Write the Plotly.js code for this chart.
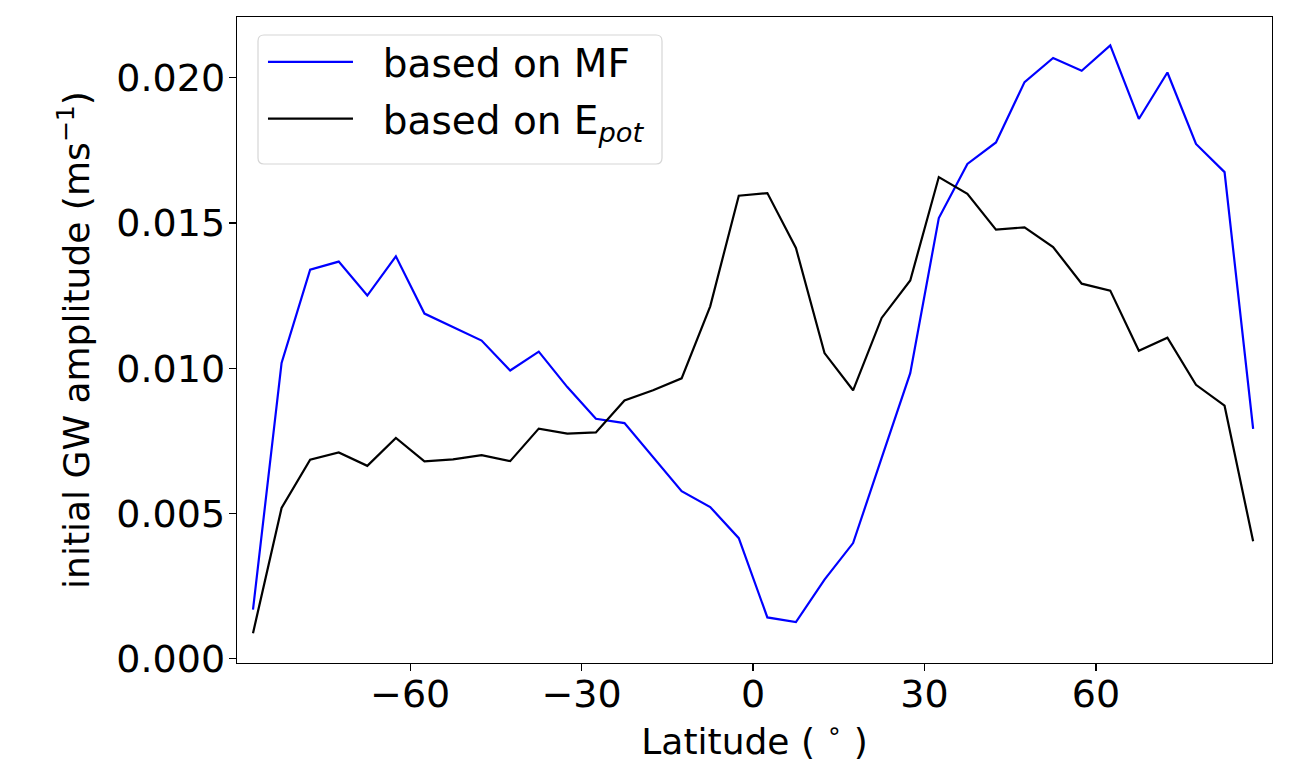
<!DOCTYPE html>
<html>
<head>
<meta charset="utf-8">
<script src="https://cdn.plot.ly/plotly-3.0.1.min.js"></script>
<style>html,body{margin:0;padding:0;background:#fff;}#chart{width:1315px;height:768px;}</style>
</head>
<body>
<div id="chart"></div>
<script>
// Latitude (degrees)
const latitude = [-87.5, -82.5, -77.5, -72.5, -67.5, -62.5, -57.5, -52.5, -47.5, -42.5,
  -37.5, -32.5, -27.5, -22.5, -17.5, -12.5, -7.5, -2.5, 2.5, 7.5,
  12.5, 17.5, 22.5, 27.5, 32.5, 37.5, 42.5, 47.5, 52.5, 57.5,
  62.5, 67.5, 72.5, 77.5, 82.5, 87.5];

// initial GW amplitude based on MF (m s^-1)
const ampMF = [0.00169, 0.01018, 0.01339, 0.01367, 0.01250, 0.01385, 0.01188, 0.01142, 0.01095, 0.00992,
  0.01057, 0.00935, 0.00826, 0.00811, 0.00694, 0.00577, 0.00522, 0.00415, 0.00142, 0.00126,
  0.00272, 0.00398, 0.00691, 0.00983, 0.01517, 0.01703, 0.01777, 0.01985, 0.02068, 0.02024,
  0.02111, 0.01858, 0.02018, 0.01772, 0.01675, 0.00791];

// initial GW amplitude based on E_pot (m s^-1)
const ampEpot = [0.00088, 0.00519, 0.00685, 0.00710, 0.00664, 0.00760, 0.00679, 0.00686, 0.00701, 0.00680,
  0.00792, 0.00775, 0.00779, 0.00889, 0.00924, 0.00965, 0.01213, 0.01594, 0.01603, 0.01414,
  0.01052, 0.00924, 0.01173, 0.01302, 0.01658, 0.01600, 0.01477, 0.01485, 0.01417, 0.01291,
  0.01267, 0.01060, 0.01105, 0.00943, 0.00871, 0.00404];

const seriesNames = ['based on MF', 'based on E<sub><i>pot</i></sub>'];
const xTicks = [-60, -30, 0, 30, 60];
const yTicks = [0.000, 0.005, 0.010, 0.015, 0.020];

const FONT = 'DejaVu Sans, sans-serif';
const PAD = '\u00a0\u00a0';

const traces = [
  {x: latitude, y: ampMF, type: 'scatter', mode: 'lines', name: PAD + seriesNames[0],
   legendgroup: 'mf', line: {color: '#0000ff', width: 2.2}},
  {x: latitude, y: ampEpot, type: 'scatter', mode: 'lines', name: PAD + seriesNames[1],
   legendgroup: 'epot', line: {color: '#000000', width: 2.2}}
];

// rounded legend frame, in pixels relative to the plot's top-left corner
const frame = {x0: 21, x1: 425, y0: -18, y1: -147, r: 6};
const framePath = [
  'M', frame.x0 + frame.r, frame.y0,
  'L', frame.x1 - frame.r, frame.y0,
  'Q', frame.x1, frame.y0, frame.x1, frame.y0 - frame.r,
  'L', frame.x1, frame.y1 + frame.r,
  'Q', frame.x1, frame.y1, frame.x1 - frame.r, frame.y1,
  'L', frame.x0 + frame.r, frame.y1,
  'Q', frame.x0, frame.y1, frame.x0, frame.y1 + frame.r,
  'L', frame.x0, frame.y0 - frame.r,
  'Q', frame.x0, frame.y0, frame.x0 + frame.r, frame.y0, 'Z'
].join(' ');

const layout = {
  width: 1315, height: 768,
  paper_bgcolor: '#ffffff', plot_bgcolor: '#ffffff',
  margin: {l: 237, r: 43, t: 17, b: 105, pad: 0},
  font: {family: FONT, size: 36, color: '#000'},
  showlegend: true,
  legend: {
    x: 0.0251, y: 0.9799, xanchor: 'left', yanchor: 'top',
    bgcolor: 'rgba(0,0,0,0)', borderwidth: 0,
    font: {family: FONT, size: 39, color: '#000'},
    itemwidth: 85, tracegroupgap: 3
  },
  shapes: [{
    type: 'path', xref: 'paper', yref: 'paper', xsizemode: 'pixel', ysizemode: 'pixel',
    xanchor: 0, yanchor: 1, path: framePath, layer: 'above',
    fillcolor: 'rgba(255,255,255,0.8)', line: {color: '#d6d6d6', width: 1.2}
  }],
  xaxis: {
    range: [-90.3, 90.8], tickmode: 'array', tickvals: xTicks,
    showgrid: false, zeroline: false,
    showline: true, mirror: true, linecolor: '#000', linewidth: 1.3,
    ticks: 'outside', ticklen: 7, tickwidth: 1.3, tickcolor: '#000',
    ticklabelstandoff: -10,
    tickfont: {family: FONT, size: 38, color: '#000'},
    title: {text: 'Latitude ( <sup>∘</sup> )', font: {family: FONT, size: 36, color: '#000'}, standoff: 0}
  },
  yaxis: {
    range: [-0.000148, 0.02209], tickmode: 'array', tickvals: yTicks, tickformat: '.3f',
    showgrid: false, zeroline: false,
    showline: true, mirror: true, linecolor: '#000', linewidth: 1.3,
    ticks: 'outside', ticklen: 7, tickwidth: 1.3, tickcolor: '#000',
    ticklabelstandoff: -4,
    tickfont: {family: FONT, size: 38, color: '#000'},
    title: {text: 'initial GW amplitude (ms<sup>−1</sup>)', font: {family: FONT, size: 36, color: '#000'}, standoff: 15}
  }
};

Plotly.newPlot('chart', traces, layout, {staticPlot: true, displayModeBar: false});
</script>
</body>
</html>
